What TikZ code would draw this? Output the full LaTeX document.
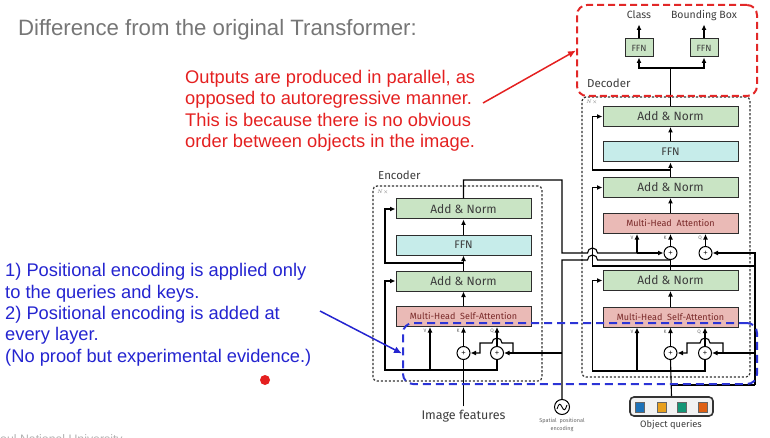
\documentclass[tikz,border=0pt]{standalone}
\usepackage{fontspec}
\setmainfont{Liberation Sans}
\newfontfamily\diafont{Fira Sans}
\usetikzlibrary{arrows.meta}

\definecolor{titlegray}{RGB}{118,118,118}
\definecolor{notered}{RGB}{228,32,32}
\definecolor{noteblue}{RGB}{36,36,208}
\definecolor{dashred}{RGB}{226,40,40}
\definecolor{dashblue}{RGB}{44,52,214}
\definecolor{normgreen}{RGB}{201,228,196}
\definecolor{ffncyan}{RGB}{198,236,234}
\definecolor{attnpink}{RGB}{234,186,182}
\definecolor{boxline}{RGB}{45,45,45}
\definecolor{attntext}{RGB}{120,40,40}
\definecolor{labelgray}{RGB}{60,60,60}
\definecolor{qblue}{RGB}{30,115,185}
\definecolor{qorange}{RGB}{232,160,30}
\definecolor{qgreen}{RGB}{20,150,118}
\definecolor{qred}{RGB}{222,96,20}

\begin{document}
\begin{tikzpicture}[x=1pt,y=-1pt,
    blk/.style={draw=boxline, line width=1pt, minimum width=135pt, minimum height=20pt, inner sep=0pt,
      font=\diafont\fontsize{12}{12}\selectfont, text=labelgray},
    addnorm/.style={blk, fill=normgreen},
    ffnblk/.style={blk, fill=ffncyan, font=\diafont\fontsize{11}{11}\selectfont},
    attnblk/.style={blk, fill=attnpink, text=attntext, font=\diafont\fontsize{9}{9}\selectfont},
    headblk/.style={blk, fill=normgreen, minimum width=28pt, minimum height=18pt, font=\diafont\fontsize{9}{9}\selectfont},
    plus/.style={draw=black, circle, line width=1pt, minimum size=13pt, inner sep=0pt, fill=white, font=\fontsize{7.5}{7.5}\selectfont},
    conn/.style={black, line width=1.1pt},
    arr/.style={conn, -{Latex[length=5.5pt,width=5pt]}},
    vkq/.style={font=\diafont\fontsize{5}{5}\selectfont, text=black!60, inner sep=0pt},
    lbl/.style={font=\diafont\fontsize{11.5}{11.5}\selectfont, text=labelgray, inner sep=0pt},
    toplbl/.style={font=\diafont\fontsize{10.5}{10.5}\selectfont, text=labelgray, inner sep=1pt, text height=8pt, text depth=2.5pt},
    layerbox/.style={draw=black!80, line width=1.2pt, dash pattern=on 2.2pt off 1.8pt, rounded corners=4pt, inner sep=0pt},
    note/.style={anchor=north west, align=left, inner sep=0pt, font=\fontsize{18.3}{21.3}\selectfont},
  ]
  \useasboundingbox (0,0) rectangle (770,438);
  \clip (0,0) rectangle (770,438);

  % slide text
  \node[anchor=base west, inner sep=0pt, text=titlegray, font=\fontsize{22.2}{22.2}\selectfont] (title) at (18,36)
    {Difference from the original Transformer:};
  \node[note, text=notered] (rednote) at (185,70)
    {Outputs are produced in parallel, as\\opposed to autoregressive manner.\\This is because there is no obvious\\order between objects in the image.};
  \node[note, text=noteblue] (bluenote) at (5,263.5)
    {1) Positional encoding is applied only\\to the queries and keys.\\2) Positional encoding is added at\\every layer.\\(No proof but experimental evidence.)};
  \node[anchor=base west, inner sep=0pt, text=black!30, font=\fontsize{12.3}{12.3}\selectfont] (footer) at (-15,443)
    {Seoul National University};
  \fill[notered] (265,380) circle[radius=5];

  % layer frames
  \node[layerbox, minimum width=169pt, minimum height=195pt] (encbox) at (457.5,283.5) {};
  \node[layerbox, minimum width=168pt, minimum height=280pt] (decbox) at (666,237) {};
  \node[lbl, anchor=base west] (enclbl) at (378,180) {Encoder};
  \node[lbl, anchor=base west] (declbl) at (587,88) {Decoder};
  \node[vkq, anchor=west] (encN) at (377,192) {$N\times$};
  \node[vkq, anchor=west] (decN) at (586,102) {$N\times$};

  % encoder
  \node[attnblk] (encMHSA) at (463.5,316.5) {Multi-Head\ \ Self-Attention};
  \node[addnorm] (encAN1) at (463.5,281) {Add \& Norm};
  \node[ffnblk] (encFFN) at (463.5,245) {FFN};
  \node[addnorm] (encAN2) at (463.5,209) {Add \& Norm};
  \node[plus] (encK) at (463.5,353) {+};
  \node[plus] (encQ) at (497,353) {+};
  \node[vkq] (encVl) at (425,331) {V};
  \node[vkq] (encKl) at (458,331) {K};
  \node[vkq] (encQl) at (492,331) {Q};
  \node[font=\diafont\fontsize{12.5}{12.5}\selectfont, text=labelgray] (imgfeat) at (463.5,416) {Image features};

  % spatial positional encoding
  \node[draw, circle, line width=1pt, minimum size=15pt, inner sep=0pt, fill=white] (posenc) at (562,407) {};
  \draw[line width=0.9pt] (557,409) .. controls (559,403) and (560,403) .. (562,407)
    .. controls (564,411) and (565,411) .. (567,405);
  \node[vkq, font=\diafont\fontsize{5.5}{5.5}\selectfont] (posl1) at (562,421) {Spatial\ \ positional};
  \node[vkq, font=\diafont\fontsize{5.5}{5.5}\selectfont] (posl2) at (562,428.5) {encoding};

  % decoder
  \node[attnblk] (decMHSA) at (670.5,317) {Multi-Head\ \ Self-Attention};
  \node[addnorm] (decAN1) at (670.5,280.5) {Add \& Norm};
  \node[attnblk] (decMHA) at (670.5,223.5) {Multi-Head\ \ Attention};
  \node[addnorm] (decAN2) at (670.5,187.5) {Add \& Norm};
  \node[ffnblk] (decFFN) at (670.5,152) {FFN};
  \node[addnorm] (decAN3) at (670.5,116.5) {Add \& Norm};
  \node[plus] (decK) at (670.5,353) {+};
  \node[plus] (decQ) at (705,353) {+};
  \node[plus] (decKx) at (670.5,253) {+};
  \node[plus] (decQx) at (705.5,253) {+};
  \node[vkq] (decVl) at (632,332) {V};
  \node[vkq] (decKl) at (665,332) {K};
  \node[vkq] (decQl) at (699,332) {Q};
  \node[vkq] (decVxl) at (632,238) {V};
  \node[vkq] (decKxl) at (665,238) {K};
  \node[vkq] (decQxl) at (700,238) {Q};

  % heads
  \node[headblk] (ffnCls) at (639,48) {FFN};
  \node[headblk] (ffnBox) at (704,48) {FFN};
  \node[toplbl] (lblCls) at (639,16) {Class};
  \node[toplbl] (lblBox) at (704,16) {Bounding Box};

  % object queries
  \node[draw=black!80, line width=1.6pt, rounded corners=4pt, fill=black!5, minimum width=83pt, minimum height=19pt] (objq) at (671.5,406.5) {};
  \foreach \c/\px in {qblue/640, qorange/661.5, qgreen/682, qred/703}
    \fill[\c, draw=black!60, line width=0.4pt] (\px-4.5,402) rectangle (\px+4.5,412);
  \node[font=\diafont\fontsize{9.3}{9.3}\selectfont, text=labelgray] (objqlbl) at (671,425) {Object queries};

  % encoder wiring
  \coordinate (encIn) at (463.5,370);
  \coordinate (encV) at (430,370);
  \coordinate (encMid) at (463.5,263);
  \coordinate (posJ) at (562,353);
  \draw[conn] (imgfeat.north) -- (encK.south);
  \draw[arr] (encIn) -- (385,370) |- (encAN1.west);
  \draw[conn] (encIn) -- (497,370) -- (encQ.south);
  \draw[arr] (encV) -- (encV |- encMHSA.south);
  \draw[arr] (encK) -- (encK |- encMHSA.south);
  \draw[arr] (encQ) -- (encQ |- encMHSA.south);
  \draw[arr] (posJ) -- (encQ.east);
  \draw[arr] (513,353) -- (513,343) -- (502,343) arc[start angle=0,end angle=-180,radius=5]
    -- (480,343) -- (480,353) -- (encK.east);
  \draw[arr] (encMHSA.north) -- (encAN1.south);
  \draw[arr] (encAN1.north) -- (encFFN.south);
  \draw[arr] (encMid) -- (385,263) |- (encAN2.west);
  \draw[arr] (encFFN.north) -- (encAN2.south);

  % memory and positions into the decoder
  \coordinate (decVx) at (637,253);
  \draw[conn] (encAN2.north) |- (562,180) -- (562,253) -- (587.5,253)
    arc[start angle=180,end angle=360,radius=5] -- (decVx);
  \draw[arr] (decVx) -- (decKx.west);
  \draw[arr] (decVx) -- (decVx |- decMHA.south);
  \draw[conn] (posenc.north) -- (562,260) -- (587.5,260)
    arc[start angle=180,end angle=360,radius=5] -- (670.5,260);

  % decoder wiring
  \coordinate (decIn) at (670.5,371);
  \coordinate (decV) at (637,371);
  \coordinate (decJ) at (670.5,266);
  \coordinate (decMid) at (670.5,170);
  \coordinate (headJ) at (670.5,68);
  \draw[conn] (objq.north) -- (decK.south);
  \draw[arr] (decIn) -- (592.5,371) |- (decAN1.west);
  \draw[conn] (decIn) -- (705,371) -- (decQ.south);
  \draw[arr] (decV) -- (decV |- decMHSA.south);
  \draw[arr] (decK) -- (decK |- decMHSA.south);
  \draw[arr] (decQ) -- (decQ |- decMHSA.south);
  \draw[arr] (723,353) -- (723,343) -- (710,343) arc[start angle=0,end angle=-180,radius=5]
    -- (687,343) -- (687,353) -- (decK.east);
  \draw[conn] (670.5,385) -- (755,385);
  \draw[arr] (755,353) -- (decQ.east);
  \draw[arr] (755,385) |- (decQx.east);
  \draw[arr] (decMHSA.north) -- (decAN1.south);
  \draw[conn] (decAN1.north) -- (decKx.south);
  \draw[arr] (decJ) -- (592.5,266) |- (decAN2.west);
  \draw[conn] (decJ) -- (755,266);
  \draw[arr] (decKx) -- (decKx |- decMHA.south);
  \draw[arr] (decQx) -- (decQx |- decMHA.south);
  \draw[arr] (decMHA.north) -- (decAN2.south);
  \draw[arr] (decAN2.north) -- (decFFN.south);
  \draw[arr] (decMid) -- (592.5,170) |- (decAN3.west);
  \draw[arr] (decFFN.north) -- (decAN3.south);
  \draw[conn] (decAN3.north) -- (headJ);
  \draw[arr] (headJ) -| (ffnCls.south);
  \draw[arr] (headJ) -| (ffnBox.south);
  \draw[arr, shorten >=2pt] (ffnCls.north) -- (lblCls.south);
  \draw[arr, shorten >=2pt] (ffnBox.north) -- (lblBox.south);

  % highlight frames and pointers
  \node[draw=dashblue, line width=2pt, dash pattern=on 8pt off 5pt, rounded corners=10pt,
    minimum width=354pt, minimum height=61pt, inner sep=0pt] (pebox) at (580,353.5) {};
  \node[draw=dashred, line width=2pt, dash pattern=on 7pt off 4pt, rounded corners=10pt,
    minimum width=180pt, minimum height=91pt, inner sep=0pt] (outbox) at (667,50.5) {};
  \coordinate (redtail) at (483,103);
  \coordinate (bluetail) at (320,311);
  \draw[notered, line width=1.5pt, -{Latex[length=8pt,width=7pt]}] (redtail) -- (outbox.west);
  \draw[noteblue, line width=1.5pt, -{Latex[length=8pt,width=7pt]}] (bluetail) -- (pebox.west);
\end{tikzpicture}
\end{document}
